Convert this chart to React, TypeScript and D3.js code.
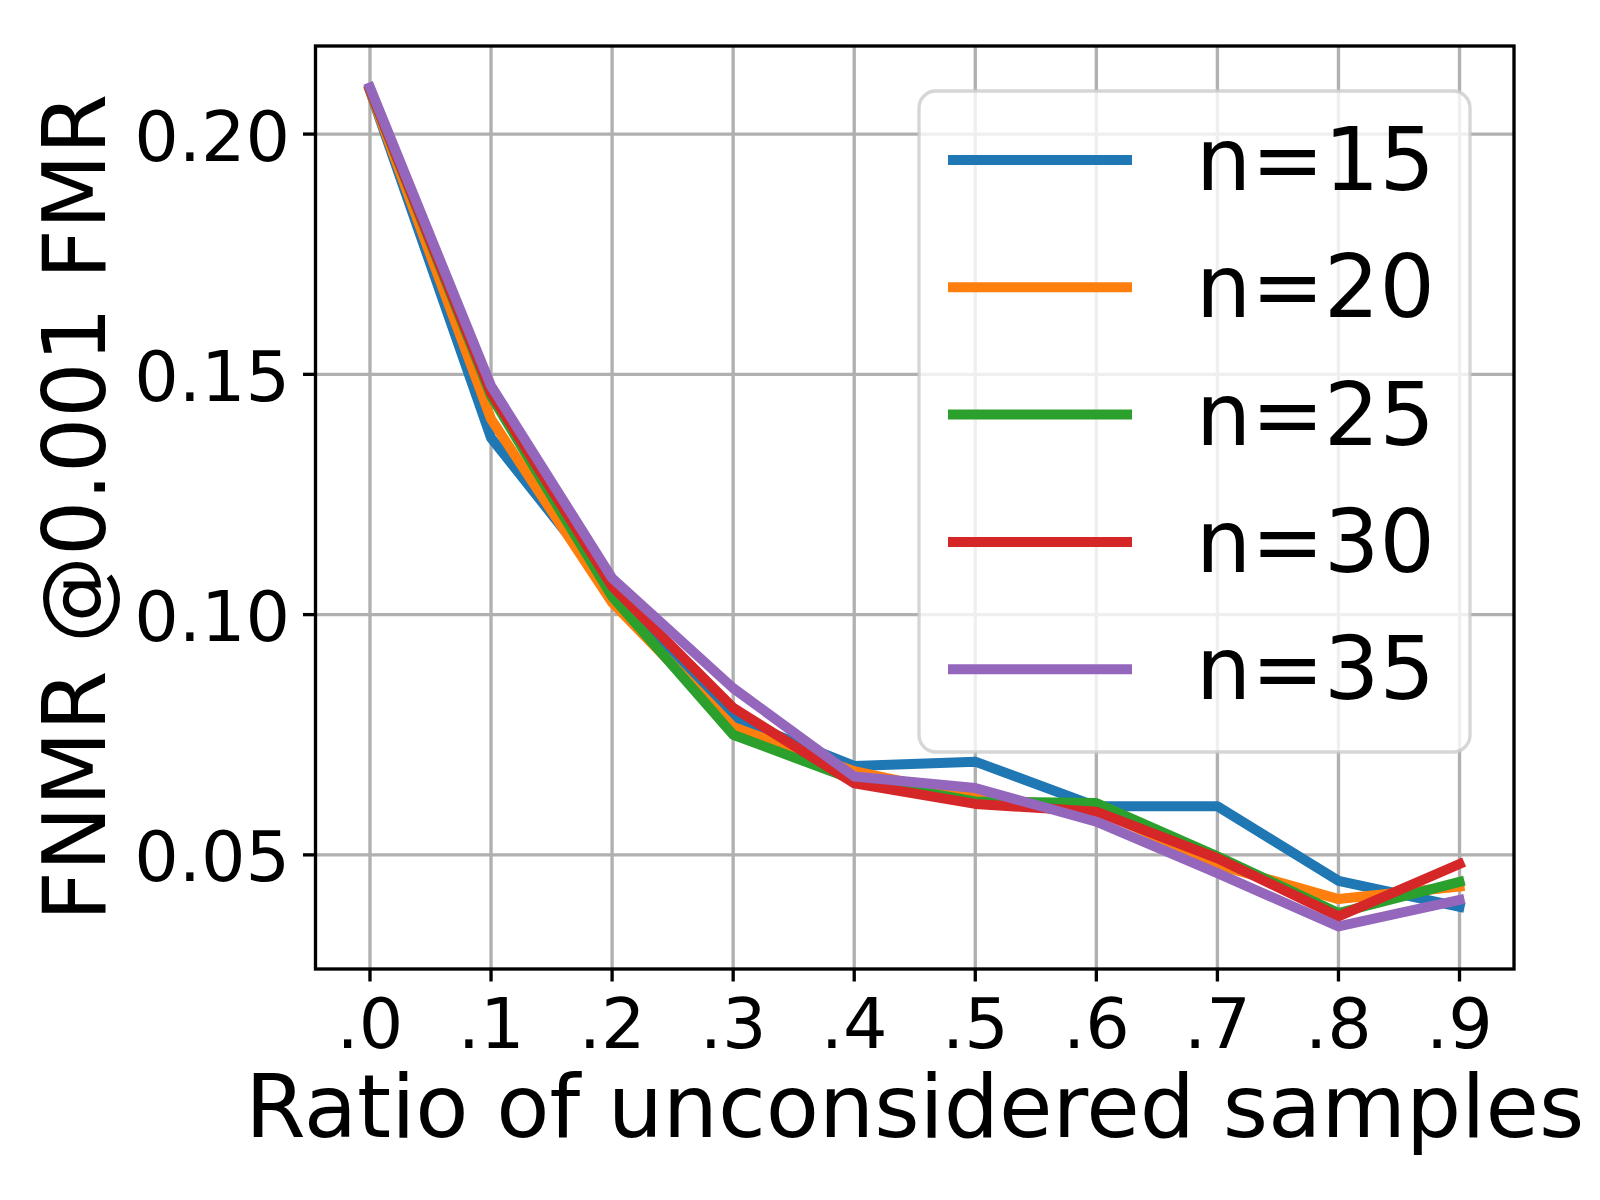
import React from "react";
import * as d3 from "d3";

const ratios = [0.0, 0.1, 0.2, 0.3, 0.4, 0.5, 0.6, 0.7, 0.8, 0.9];
const xTickLabels = [".0", ".1", ".2", ".3", ".4", ".5", ".6", ".7", ".8", ".9"];
const yTicks = [0.05, 0.1, 0.15, 0.2];
const yTickLabels = ["0.05", "0.10", "0.15", "0.20"];

const n15 = [0.2090, 0.1368, 0.1050, 0.0785, 0.0685, 0.0694, 0.0601, 0.0601, 0.0446, 0.0392];
const n20 = [0.2090, 0.1407, 0.1025, 0.0766, 0.0674, 0.0621, 0.0595, 0.0479, 0.0408, 0.0434];
const n25 = [0.2092, 0.1455, 0.1038, 0.0750, 0.0656, 0.0611, 0.0608, 0.0497, 0.0379, 0.0444];
const n30 = [0.2093, 0.1462, 0.1059, 0.0806, 0.0649, 0.0606, 0.0590, 0.0493, 0.0372, 0.0481];
const n35 = [0.2097, 0.1476, 0.1076, 0.0847, 0.0663, 0.0639, 0.0569, 0.0462, 0.0351, 0.0406];

const seriesNames = ["n=15", "n=20", "n=25", "n=30", "n=35"];
const seriesValues = [n15, n20, n25, n30, n35];
const seriesColors = ["#1f77b4", "#ff7f0e", "#2ca02c", "#d62728", "#9467bd"];

const xLimits = [-0.045, 0.945];
const yLimits = [0.02625, 0.21833];

const W = 1600;
const H = 1200;
const plot = { left: 315.5, right: 1514, top: 46, bottom: 969 };
const FONT = "DejaVu Sans, sans-serif";

export default function App() {
  const x = d3.scaleLinear().domain(xLimits).range([plot.left, plot.right]);
  const y = d3.scaleLinear().domain(yLimits).range([plot.bottom, plot.top]);
  const line = d3
    .line<number>()
    .x((_, i) => x(ratios[i]))
    .y((d) => y(d));

  const gridW = 3.33;
  const tickLen = 12.5;
  const tickFont = 70;
  const legend = { x: 919, y: 91, w: 551, h: 661 };
  const legendRow0 = 160;
  const legendStep = 127.3;

  return (
    <svg
      width={W}
      height={H}
      viewBox={`0 0 ${W} ${H}`}
      style={{ position: "absolute", left: 0, top: 0, background: "#fff" }}
    >
      <rect x={0} y={0} width={W} height={H} fill="#fff" />
      {/* grid */}
      <g stroke="#b0b0b0" strokeWidth={gridW}>
        {ratios.map((r, i) => (
          <line key={"gx" + i} x1={x(r)} x2={x(r)} y1={plot.top} y2={plot.bottom} />
        ))}
        {yTicks.map((t, i) => (
          <line key={"gy" + i} x1={plot.left} x2={plot.right} y1={y(t)} y2={y(t)} />
        ))}
      </g>
      {/* series */}
      <g fill="none" strokeWidth={10} strokeLinecap="square" strokeLinejoin="round">
        {seriesValues.map((vals, i) => (
          <path key={seriesNames[i]} d={line(vals) || ""} stroke={seriesColors[i]} />
        ))}
      </g>
      {/* spines */}
      <rect
        x={plot.left}
        y={plot.top}
        width={plot.right - plot.left}
        height={plot.bottom - plot.top}
        fill="none"
        stroke="#000"
        strokeWidth={3.33}
      />
      {/* x ticks */}
      <g>
        {ratios.map((r, i) => (
          <g key={"xt" + i}>
            <line
              x1={x(r)}
              x2={x(r)}
              y1={plot.bottom}
              y2={plot.bottom + tickLen}
              stroke="#000"
              strokeWidth={3.33}
            />
            <text
              x={x(r)}
              y={1048}
              textAnchor="middle"
              fontFamily={FONT}
              fontSize={tickFont}
              fill="#000"
            >
              {xTickLabels[i]}
            </text>
          </g>
        ))}
      </g>
      {/* y ticks */}
      <g>
        {yTicks.map((t, i) => (
          <g key={"yt" + i}>
            <line
              x1={plot.left - tickLen}
              x2={plot.left}
              y1={y(t)}
              y2={y(t)}
              stroke="#000"
              strokeWidth={3.33}
            />
            <text
              x={290}
              y={y(t) + 26.5}
              textAnchor="end"
              fontFamily={FONT}
              fontSize={tickFont}
              fill="#000"
            >
              {yTickLabels[i]}
            </text>
          </g>
        ))}
      </g>
      {/* axis labels */}
      <text
        x={(plot.left + plot.right) / 2}
        y={1137}
        textAnchor="middle"
        fontFamily={FONT}
        fontSize={87}
        fill="#000"
      >
        Ratio of unconsidered samples
      </text>
      <text
        transform={`translate(105, ${(plot.top + plot.bottom) / 2}) rotate(-90)`}
        textAnchor="middle"
        fontFamily={FONT}
        fontSize={87}
        fill="#000"
      >
        FNMR @0.001 FMR
      </text>
      {/* legend */}
      <rect
        x={legend.x}
        y={legend.y}
        width={legend.w}
        height={legend.h}
        rx={17}
        ry={17}
        fill="#fff"
        fillOpacity={0.8}
        stroke="#cccccc"
        strokeOpacity={0.8}
        strokeWidth={3.33}
      />
      {seriesNames.map((name, i) => {
        const ly = legendRow0 + i * legendStep;
        return (
          <g key={"lg" + i}>
            <line
              x1={953}
              x2={1127}
              y1={ly}
              y2={ly}
              stroke={seriesColors[i]}
              strokeWidth={10}
              strokeLinecap="square"
            />
            <text x={1196} y={ly + 30} fontFamily={FONT} fontSize={87} fill="#000">
              {name}
            </text>
          </g>
        );
      })}
    </svg>
  );
}
